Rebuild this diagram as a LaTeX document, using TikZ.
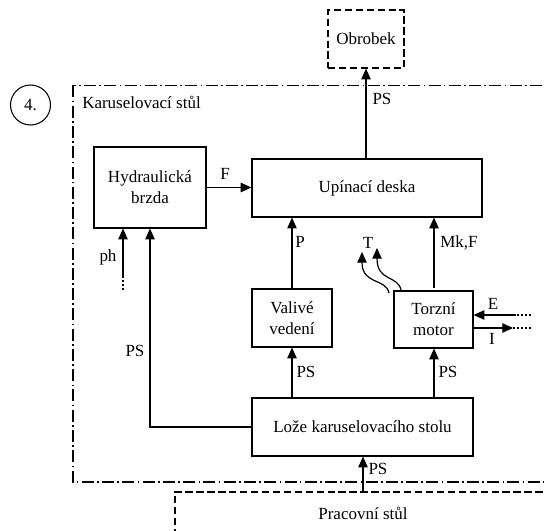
\documentclass[tikz,border=0pt]{standalone}
\usepackage{fontspec}
\setmainfont{Liberation Serif}
\newfontfamily\tms{Liberation Serif}
\usetikzlibrary{arrows.meta}
\begin{document}
\begin{tikzpicture}[x=0.75pt,y=-0.75pt,
  every node/.style={font=\tms\fontsize{12.75}{15}\selectfont, inner sep=0pt},
  box/.style={draw, line width=0.9pt, align=center},
  dbox/.style={draw, line width=0.9pt, dash pattern=on 5.5pt off 2.7pt, align=center},
  frame/.style={line width=0.8pt, dash pattern=on 9pt off 2.5pt on 1.2pt off 2.5pt},
  arr/.style={line width=0.9pt, -{Triangle[length=8pt,width=7pt]}},
  dots/.style={line width=0.9pt, dash pattern=on 1.5pt off 1.5pt},
  lbl/.style={}]
\useasboundingbox (0,0) rectangle (544,531);
\clip (0,0) rectangle (544,531);
% frame of Karuselovaci stul
\draw[frame] (73,85.5) rectangle (600,482);
\node[lbl, anchor=west] (kst) at (82,102) {Karuselovací stůl};
\node[draw, circle, line width=0.8pt, minimum size=30pt] (c4) at (30.5,105) {4.};
% boxes
\node[dbox, minimum width=57pt, minimum height=43.5pt] (obr) at (366,39) {Obrobek};
\node[box, minimum width=84pt, minimum height=60.75pt] (hyd) at (150,187.5) {Hydraulická\\[1pt]brzda};
\node[box, minimum width=172.5pt, minimum height=43.5pt] (upi) at (367,188) {Upínací deska};
\node[box, minimum width=60pt, minimum height=43.5pt] (val) at (292,318) {Valivé\\[1pt]vedení};
\node[box, minimum width=59.25pt, minimum height=42.75pt] (tor) at (433.5,319.5) {Torzní\\[1pt]motor};
\node[box, minimum width=165.75pt, minimum height=43.5pt] (loz) at (362.5,427) {Lože karuselovacího stolu};
\node[dbox, minimum width=282pt, minimum height=31.5pt] (pra) at (363,513) {};
\node[lbl] (pratxt) at (363,513) {Pracovní stůl};
% connectors
\draw[arr] (upi.north -| obr.south) -- (obr.south);
\node[lbl] (lps1) at (382,99) {PS};
\draw[arr] (hyd.east) -- (hyd.east -| upi.west);
\node[lbl] (lf) at (225,174) {F};
\draw[arr] (val.north) -- (val.north |- upi.south);
\node[lbl] (lp) at (300,242) {P};
\draw[arr] (val.north -| tor.north) ++(0.5,0) coordinate (tn) -- (tn |- upi.south);
\node[lbl] (lmk) at (459,243) {Mk,F};
\draw[arr] (loz.north -| val.south) -- (val.south);
\node[lbl] (lps2) at (306,372) {PS};
\draw[arr] (loz.north -| tn) -- (tn |- tor.south);
\node[lbl] (lps3) at (448,372) {PS};
\draw[arr] (loz.west) -| (hyd.south);
\node[lbl] (lps4) at (135,351) {PS};
\draw[arr] (pra.north) -- (pra.north |- loz.south);
\node[lbl] (lps5) at (378,469) {PS};
% ph
\coordinate (phb) at (123,290);
\coordinate (phm) at (123,276);
\draw[dots] (phb) -- (phm);
\draw[arr] (phm) -- (phm |- hyd.south);
\node[lbl] (lph) at (108,257) {ph};
% E and I
\coordinate (eEnd) at (531,315);
\coordinate (eMid) at (516,315);
\draw[dots] (eEnd) -- (eMid);
\draw[arr] (eMid) -- (eMid -| tor.east);
\node[lbl] (le) at (493,304) {E};
\coordinate (iMid) at (513,328);
\coordinate (iEnd) at (531,328);
\draw[arr] (iMid -| tor.east) -- (iMid);
\draw[dots] (iMid) -- (iEnd);
\node[lbl] (li) at (492,339) {I};
% T heat arrows
\coordinate (t1s) at (389,293);
\coordinate (t1e) at (362,252);
\coordinate (t2s) at (401,290);
\coordinate (t2e) at (377,248);
\draw[arr] (t1s) .. controls (386,278) and (362,285) .. (t1e);
\draw[arr] (t2s) .. controls (398,275) and (377,282) .. (t2e);
\node[lbl] (lt) at (368,243) {T};
\end{tikzpicture}
\end{document}
